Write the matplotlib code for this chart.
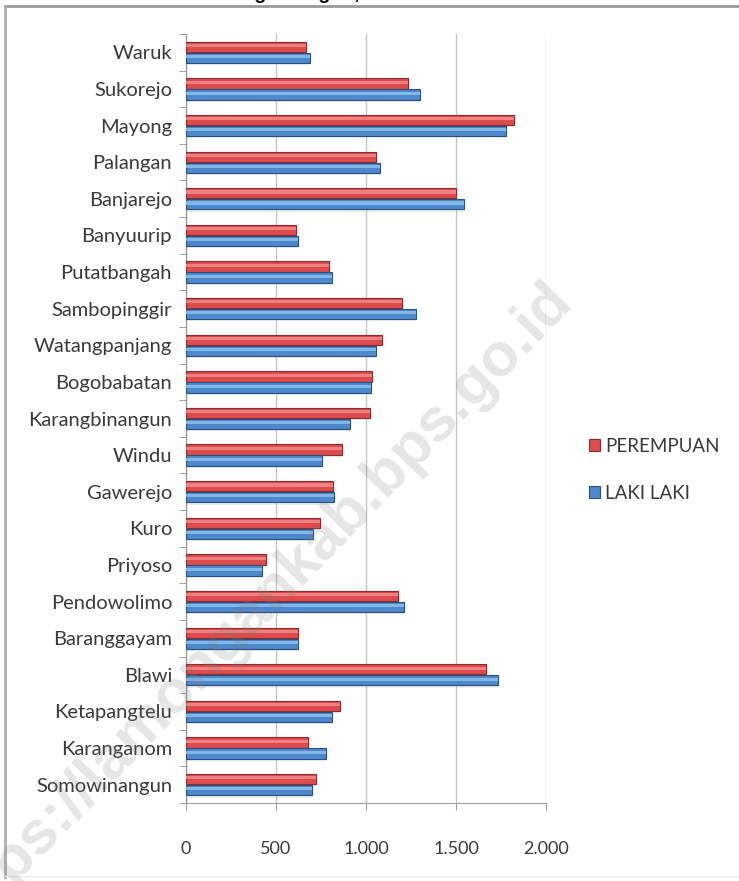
import matplotlib
matplotlib.use("Agg")
import matplotlib.pyplot as plt
from matplotlib.lines import Line2D
import numpy as np

categories = ["Waruk", "Sukorejo", "Mayong", "Palangan", "Banjarejo", "Banyuurip",
              "Putatbangah", "Sambopinggir", "Watangpanjang", "Bogobabatan",
              "Karangbinangun", "Windu", "Gawerejo", "Kuro", "Priyoso", "Pendowolimo",
              "Baranggayam", "Blawi", "Ketapangtelu", "Karanganom", "Somowinangun"]
perempuan = [665, 1235, 1824, 1056, 1500, 609, 794, 1200, 1089, 1033,
             1022, 865, 818, 746, 444, 1180, 620, 1667, 856, 678, 722]
laki_laki = [690, 1300, 1778, 1078, 1546, 622, 809, 1278, 1057, 1026,
             911, 756, 820, 707, 420, 1213, 620, 1735, 809, 776, 700]
xticks = [0, 500, 1000, 1500, 2000]
xticklabels = ["0", "500", "1.000", "1.500", "2.000"]

W, H = 739, 881
fig = plt.figure(figsize=(W / 100, H / 100), dpi=100)
fig.patch.set_facecolor("white")

ax = fig.add_axes([186 / W, (H - 803) / H, 360 / W, (803 - 34) / H])
y = np.arange(len(categories))
bh = 0.28
off = 0.15
red, red_edge, red_hi = "#DE4B4C", "#8E2A2C", "#F39090"
blue, blue_edge, blue_hi = "#4D88CC", "#2B4F7E", "#90C4F0"

# soft shadows
ax.barh(y - off + 0.06, perempuan, height=bh, color="#c8c8c8", alpha=0.35, zorder=1, linewidth=0)
ax.barh(y + off + 0.06, laki_laki, height=bh, color="#c8c8c8", alpha=0.35, zorder=1, linewidth=0)
# main bars
ax.barh(y - off, perempuan, height=bh, color=red, edgecolor=red_edge, linewidth=0.8, zorder=3,
        label="PEREMPUAN")
ax.barh(y + off, laki_laki, height=bh, color=blue, edgecolor=blue_edge, linewidth=0.8, zorder=3,
        label="LAKI LAKI")
# glossy highlights
ax.barh(y - off - 0.035, perempuan, height=bh * 0.3, color=red_hi, linewidth=0, zorder=4, alpha=0.8)
ax.barh(y + off - 0.035, laki_laki, height=bh * 0.3, color=blue_hi, linewidth=0, zorder=4, alpha=0.8)

ax.set_xlim(0, 2000)
ax.set_ylim(len(categories) - 0.5, -0.5)
ax.set_xticks(xticks)
ax.set_xticklabels(xticklabels)
ax.set_yticks(y)
ax.set_yticklabels(categories)
ax.set_yticks(np.arange(len(categories) + 1) - 0.5, minor=True)
ax.tick_params(axis="y", which="major", length=0, pad=10, labelsize=14.5, labelcolor="#3a3a3a")
ax.tick_params(axis="y", which="minor", length=5, color="#909090", direction="out")
ax.tick_params(axis="x", which="major", length=5, color="#a0a0a0", direction="out", pad=22,
               labelsize=13, labelcolor="#3a3a3a")
for lab in ax.get_yticklabels() + ax.get_xticklabels():
    lab.set_fontfamily("Lato")
ax.grid(axis="x", color="#c4c4c4", linewidth=1.0, zorder=0)
ax.set_axisbelow(True)
for s in ["top", "right"]:
    ax.spines[s].set_visible(False)
ax.spines["left"].set_color("#909090")
ax.spines["bottom"].set_color("#a0a0a0")

handles, labels = ax.get_legend_handles_labels()
leg = fig.legend(handles, labels, loc="center left", bbox_to_anchor=(572 / W, 1 - 470 / H),
                 frameon=False, prop={"family": "Lato", "size": 13.5}, handlelength=0.6,
                 handleheight=0.6, handletextpad=0.25, labelspacing=1.6)
for t in leg.get_texts():
    t.set_color("#3a3a3a")

# frame
fig.add_artist(Line2D([5 / W, 1], [1 - 6 / H, 1 - 6 / H], transform=fig.transFigure,
                      color="#9a9a9a", linewidth=2))
fig.add_artist(Line2D([5 / W, 5 / W], [1 - 6 / H, 4 / H], transform=fig.transFigure,
                      color="#b0b0b0", linewidth=2))
fig.add_artist(Line2D([5 / W, 1], [5 / H, 5 / H], transform=fig.transFigure,
                      color="#eeeeee", linewidth=1))

# title, cut off at the top edge as in the reference
fig.text(192 / W, 1 + 1 / H, "Jumlah Penduduk Menurut Jenis Kelamin Kecamatan", ha="right",
         va="baseline", family="Liberation Sans", weight="bold", fontsize=14, color="black")
fig.text(199 / W, 1 + 1 / H, "Karangbinangun, 2016", ha="left", va="baseline",
         family="Liberation Sans", weight="bold", fontsize=14, color="black")

# watermark
fig.text(255 / W, 1 - 610 / H, "https://lamongankab.bps.go.id", rotation=46, rotation_mode="anchor",
         ha="center", va="center", family="Liberation Sans", weight="bold", fontsize=44,
         color="#808080", alpha=0.2, zorder=10)

fig.savefig("out.png", dpi=100)
